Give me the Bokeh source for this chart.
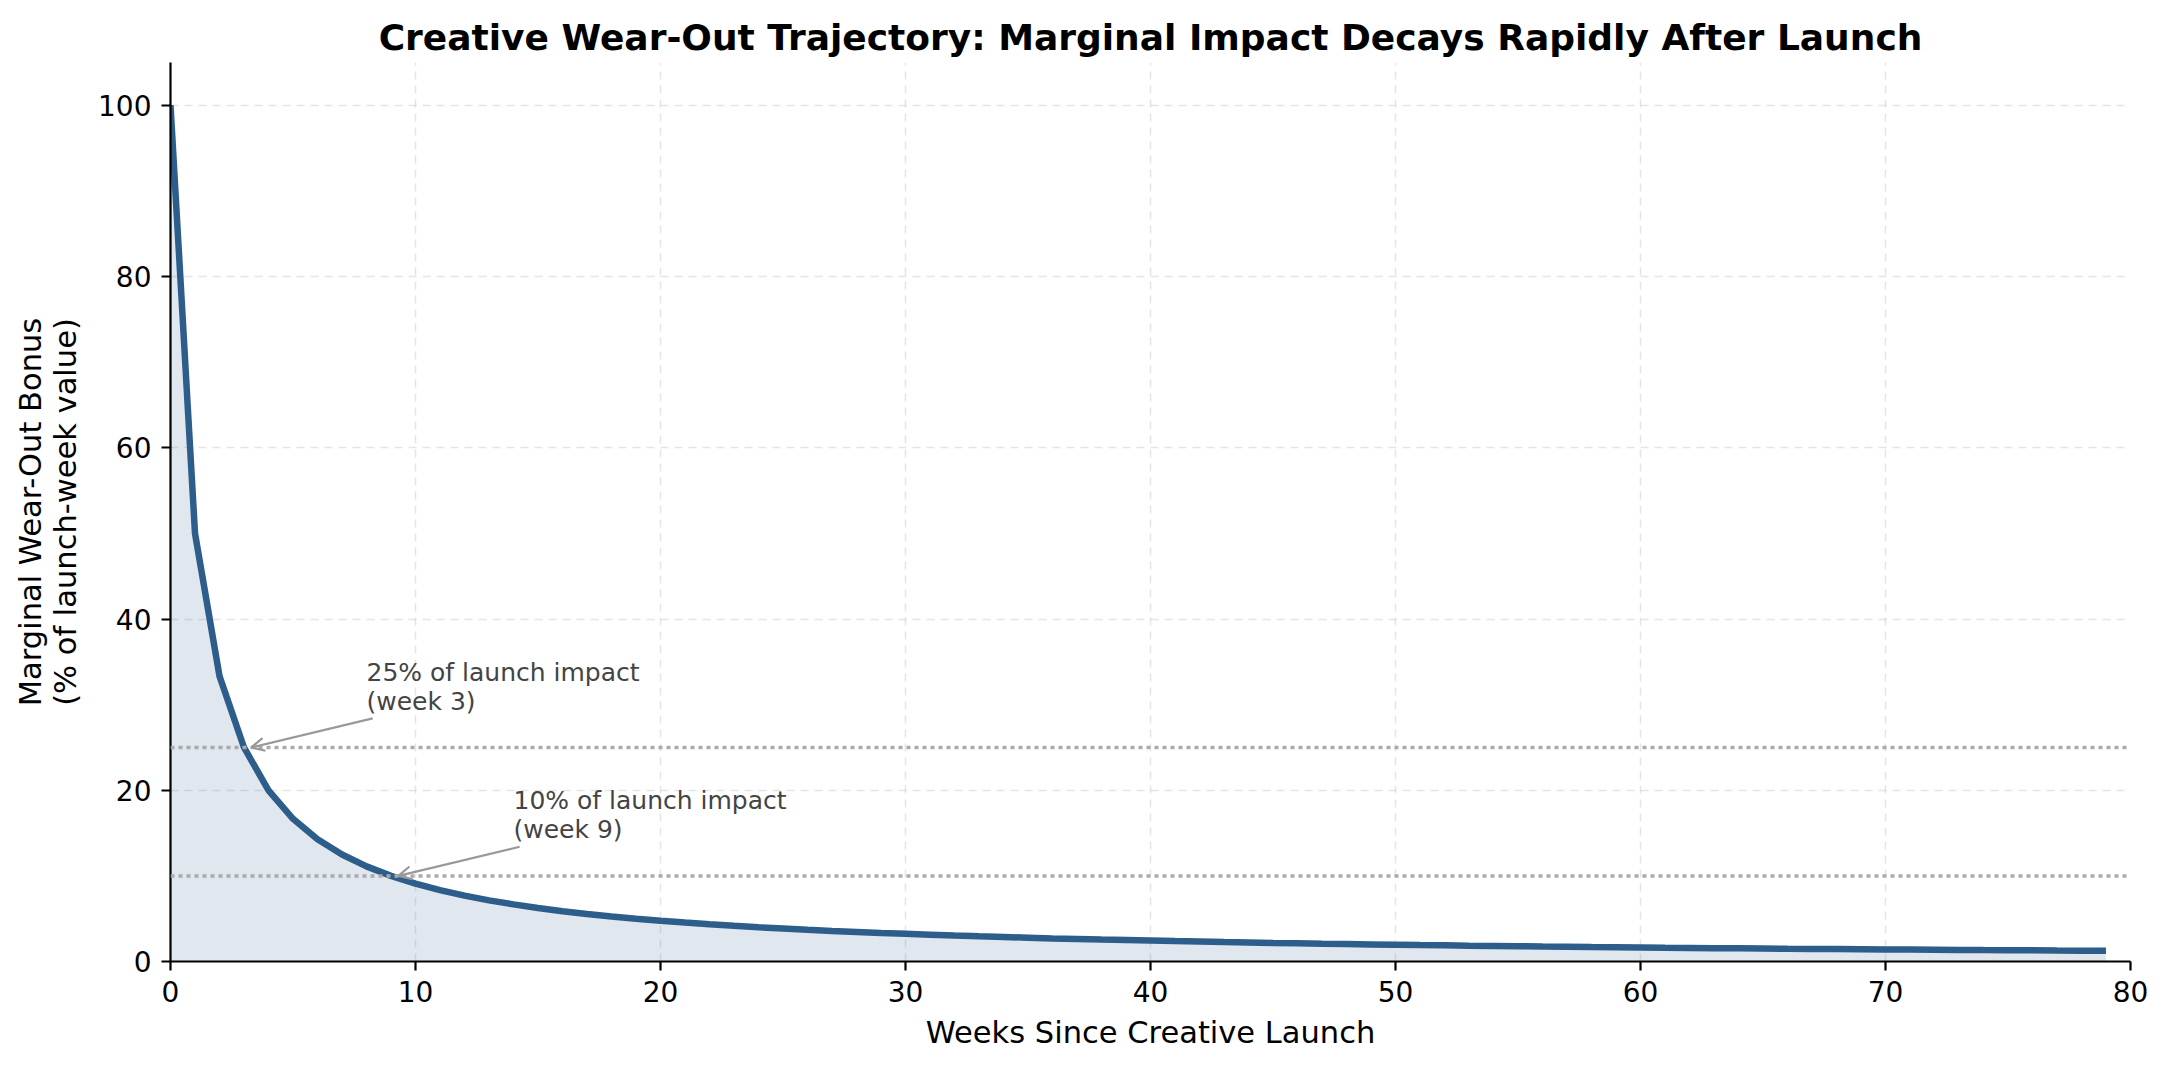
from bokeh.plotting import figure
from bokeh.models import Span, Arrow, OpenHead, ColumnDataSource, FixedTicker, Range1d
from bokeh.core.properties import value
from bokeh.embed import file_html
from bokeh.resources import INLINE

weeks = list(range(80))
bonus = [100.0, 50.0, 33.33, 25.0, 20.0, 16.67, 14.29, 12.5, 11.11, 10.0,
         9.09, 8.33, 7.69, 7.14, 6.67, 6.25, 5.88, 5.56, 5.26, 5.0,
         4.76, 4.55, 4.35, 4.17, 4.0, 3.85, 3.70, 3.57, 3.45, 3.33,
         3.23, 3.13, 3.03, 2.94, 2.86, 2.78, 2.70, 2.63, 2.56, 2.5,
         2.44, 2.38, 2.33, 2.27, 2.22, 2.17, 2.13, 2.08, 2.04, 2.0,
         1.96, 1.92, 1.89, 1.85, 1.82, 1.79, 1.75, 1.72, 1.69, 1.67,
         1.64, 1.61, 1.59, 1.56, 1.54, 1.52, 1.49, 1.47, 1.45, 1.43,
         1.41, 1.39, 1.37, 1.35, 1.33, 1.32, 1.30, 1.28, 1.27, 1.25]
thresholds = [25, 10]
threshold_weeks = [3, 9]
ann_labels = ["25% of launch impact\n(week 3)", "10% of launch impact\n(week 9)"]
ann_text_x = [8, 14]
ann_text_y = [30, 15]
x_ticks = [0, 10, 20, 30, 40, 50, 60, 70, 80]
y_ticks = [0, 20, 40, 60, 80, 100]

FONT = "DejaVu Sans"
LINE = "#2d5d8b"

p = figure(width=2156, height=1055, output_backend="svg", toolbar_location=None,
           x_range=Range1d(0, 80), y_range=Range1d(0, 105),
           min_border_left=170, min_border_right=26, min_border_top=62, min_border_bottom=94)

p.title.text = "Creative Wear-Out Trajectory: Marginal Impact Decays Rapidly After Launch"
p.title.align = "center"
p.title.text_font = FONT
p.title.text_font_size = "36px"
p.title.text_font_style = "bold"
p.title.text_color = "black"
p.title.offset = 0

p.outline_line_color = None
p.background_fill_color = "white"

src = ColumnDataSource(dict(x=weeks, y=bonus, z=[0] * len(weeks)))
p.varea(x="x", y1="z", y2="y", source=src, fill_color=LINE, fill_alpha=0.15)

for t in thresholds:
    p.add_layout(Span(location=t, dimension="width", line_color="#aaaaaa",
                      line_dash="4 4", line_width=3.5))

p.line(x="x", y="y", source=src, line_color=LINE, line_width=6.5)

for tx, ty, w, t in zip(ann_text_x, ann_text_y, threshold_weeks, thresholds):
    p.add_layout(Arrow(end=OpenHead(size=13, line_color="#999999", line_width=2.2),
                       x_start=tx + 0.25, y_start=ty - 1.6, x_end=w + 0.3, y_end=t,
                       line_color="#999999", line_width=2.2))

p.text(x=ann_text_x, y=[v - 1.3 for v in ann_text_y], text=ann_labels, text_font=value(FONT),
       text_font_size="25px", text_color="#444444", text_align="left",
       text_baseline="bottom", text_line_height=1.0)

for ax in (p.xaxis[0], p.yaxis[0]):
    ax.axis_line_color = "black"
    ax.axis_line_width = 2.2
    ax.major_tick_line_color = "black"
    ax.major_tick_line_width = 2.2
    ax.major_tick_out = 9
    ax.major_tick_in = 0
    ax.minor_tick_line_color = None
    ax.major_label_text_font = FONT
    ax.major_label_text_font_size = "28px"
    ax.major_label_text_color = "black"
    ax.axis_label_text_font = FONT
    ax.axis_label_text_font_size = "30.5px"
    ax.axis_label_text_font_style = "normal"
    ax.axis_label_text_color = "black"
    ax.axis_label_text_line_height = 1.0

p.xaxis.ticker = FixedTicker(ticks=x_ticks)
p.yaxis.ticker = FixedTicker(ticks=y_ticks)
p.xaxis.axis_label = "Weeks Since Creative Launch"
p.yaxis.axis_label = "Marginal Wear-Out Bonus\n(% of launch-week value)"
p.xaxis.major_label_standoff = 10
p.yaxis.major_label_standoff = 10
p.xaxis.axis_label_standoff = 10
p.yaxis.axis_label_standoff = 12

for g in (p.xgrid[0], p.ygrid[0]):
    g.grid_line_color = "#cccccc"
    g.grid_line_alpha = 0.5
    g.grid_line_dash = "8 6"
    g.grid_line_width = 1.5

open("out.html", "w").write(file_html(p, INLINE))
